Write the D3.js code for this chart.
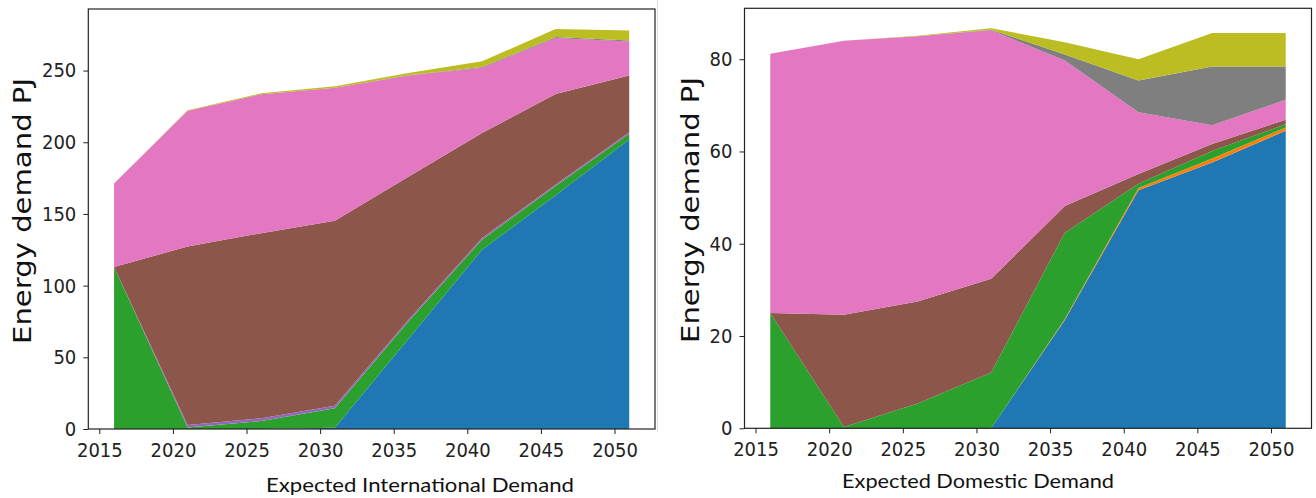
<!DOCTYPE html>
<html>
<head>
<meta charset="utf-8">
<script src="https://cdn.jsdelivr.net/npm/d3@7/dist/d3.min.js"></script>
<style>
  html, body { margin: 0; padding: 0; background: #fff; }
  svg { display: block; }
</style>
</head>
<body>
<svg id="chart" width="1316" height="498"></svg>
<script>
// Model years shared by both scenarios
const years = [2016, 2021, 2026, 2031, 2036, 2041, 2046, 2051];

// Stacked layers, bottom to top (matplotlib tab10 order)
const seriesKeys = ["blue", "orange", "green", "purple", "brown", "pink", "gray", "olive"];
const seriesColors = {
  blue: "#1f77b4", orange: "#ff7f0e", green: "#2ca02c", purple: "#9467bd",
  brown: "#8c564b", pink: "#e377c2", gray: "#7f7f7f", olive: "#bcbd22"
};

// Expected international demand (PJ)
const intlBlue   = [0, 0, 0, 0.8, 63, 125, 163, 202];
const intlOrange = [0, 0, 0, 0, 0, 0, 0, 0];
const intlGreen  = [113, 1, 5.6, 13.6, 12, 7, 6.5, 4];
const intlPurple = [0, 1.8, 1.9, 1.9, 1.2, 1.2, 1, 1];
const intlBrown  = [0, 124.5, 129.1, 128.9, 99.8, 73.3, 63.2, 39.5];
const intlPink   = [58.2, 94.7, 96.9, 92.8, 70.5, 45.5, 39.1, 23.7];
const intlGray   = [0, 0, 0, 0, 0.3, 0.5, 0.7, 0.7];
const intlOlive  = [0, 0.3, 0.7, 1, 1.5, 4, 5.5, 7];

// Expected domestic demand (PJ)
const domBlue   = [0, 0, 0, 0, 23.5, 51.6, 57.6, 64.5];
const domOrange = [0, 0, 0, 0, 0.2, 0.5, 0.9, 0.7];
const domGreen  = [25, 0.3, 5.4, 12.1, 18.7, 0.9, 1.6, 0.7];
const domPurple = [0, 0, 0, 0, 0, 0, 0, 0];
const domBrown  = [0, 24.3, 22.1, 20.3, 5.8, 2.1, 1.5, 1.0];
const domPink   = [56.2, 59.4, 57.5, 53.9, 31.5, 13.4, 4.1, 4.3];
const domGray   = [0, 0, 0, 0.1, 1.3, 6.9, 12.7, 7.2];
const domOlive  = [0, 0, 0.1, 0.3, 2.7, 4.6, 7.3, 7.3];

// Axis ticks
const xTicks = [2015, 2020, 2025, 2030, 2035, 2040, 2045, 2050];
const intlYTicks = [0, 50, 100, 150, 200, 250];
const domYTicks = [0, 20, 40, 60, 80];

// Captions and axis titles
const yTitle = "Energy demand PJ";
const intlCaption = "Expected International Demand";
const domCaption = "Expected Domestic Demand";

function buildRows(cols) {
  return years.map((yr, i) => {
    const row = { year: yr };
    seriesKeys.forEach((k, j) => { row[k] = cols[j][i]; });
    return row;
  });
}

const panels = [
  {
    rows: buildRows([intlBlue, intlOrange, intlGreen, intlPurple, intlBrown, intlPink, intlGray, intlOlive]),
    yTicks: intlYTicks, caption: intlCaption,
    left: 88.3, right: 655, top: 9, bottom: 429,
    yTitleX: 30.5, yTitleY: 211,
    capX: 420, capY: 491.5, capLen: 308
  },
  {
    rows: buildRows([domBlue, domOrange, domGreen, domPurple, domBrown, domPink, domGray, domOlive]),
    yTicks: domYTicks, caption: domCaption,
    left: 744.5, right: 1311.5, top: 8.3, bottom: 428.3,
    yTitleX: 698.5, yTitleY: 210,
    capX: 978, capY: 487.5, capLen: 272
  }
];

const svg = d3.select("#chart");

// faint divider between the two panels
svg.append("line")
  .attr("x1", 657.5).attr("x2", 657.5).attr("y1", 0).attr("y2", 432)
  .attr("stroke", "#dcdcdc").attr("stroke-width", 1);

const stack = d3.stack().keys(seriesKeys);

panels.forEach(p => {
  const layers = stack(p.rows);
  const totalMax = d3.max(p.rows, r => d3.sum(seriesKeys, k => r[k]));
  const x0 = d3.min(years), x1 = d3.max(years);
  const xPad = (x1 - x0) * 0.05;

  const x = d3.scaleLinear().domain([x0 - xPad, x1 + xPad]).range([p.left, p.right]);
  const y = d3.scaleLinear().domain([0, totalMax * 1.05]).range([p.bottom, p.top]);

  const g = svg.append("g");

  const area = d3.area()
    .x(d => x(d.data.year))
    .y0(d => y(d[0]))
    .y1(d => y(d[1]));

  g.selectAll("path.layer")
    .data(layers)
    .join("path")
    .attr("class", "layer")
    .attr("fill", d => seriesColors[d.key])
    .attr("d", area);

  // axes
  const xAxis = d3.axisBottom(x).tickValues(xTicks).tickFormat(d3.format("d"))
    .tickSize(5).tickPadding(8.5);
  const yAxis = d3.axisLeft(y).tickValues(p.yTicks).tickFormat(d3.format("d"))
    .tickSize(5).tickPadding(7);

  const gx = g.append("g").attr("transform", `translate(0,${p.bottom})`).call(xAxis);
  const gy = g.append("g").attr("transform", `translate(${p.left},0)`).call(yAxis);

  [gx, gy].forEach(ax => {
    ax.select(".domain").remove();
    ax.selectAll(".tick line").attr("stroke", "#222").attr("stroke-width", 1);
    ax.selectAll(".tick text")
      .attr("fill", "#222")
      .style("font-family", "'DejaVu Sans Condensed', 'DejaVu Sans', sans-serif")
      .style("font-size", "20px");
  });

  // frame
  g.append("rect")
    .attr("x", p.left).attr("y", p.top)
    .attr("width", p.right - p.left).attr("height", p.bottom - p.top)
    .attr("fill", "none").attr("stroke", "#222").attr("stroke-width", 1.2);

  // y title
  g.append("text")
    .attr("transform", `translate(${p.yTitleX},${p.yTitleY}) scale(0.85,1) rotate(-90)`)
    .attr("text-anchor", "middle")
    .attr("textLength", 266)
    .attr("lengthAdjust", "spacingAndGlyphs")
    .style("font-family", "'DejaVu Sans', sans-serif")
    .style("font-size", "29px")
    .attr("fill", "#111")
    .text(yTitle);

  // caption
  g.append("text")
    .attr("x", p.capX).attr("y", p.capY)
    .attr("text-anchor", "middle")
    .attr("textLength", p.capLen)
    .attr("lengthAdjust", "spacingAndGlyphs")
    .style("font-family", "Lato, 'Open Sans', sans-serif")
    .style("font-size", "20px")
    .attr("fill", "#111")
    .text(p.caption);
});
</script>
</body>
</html>
